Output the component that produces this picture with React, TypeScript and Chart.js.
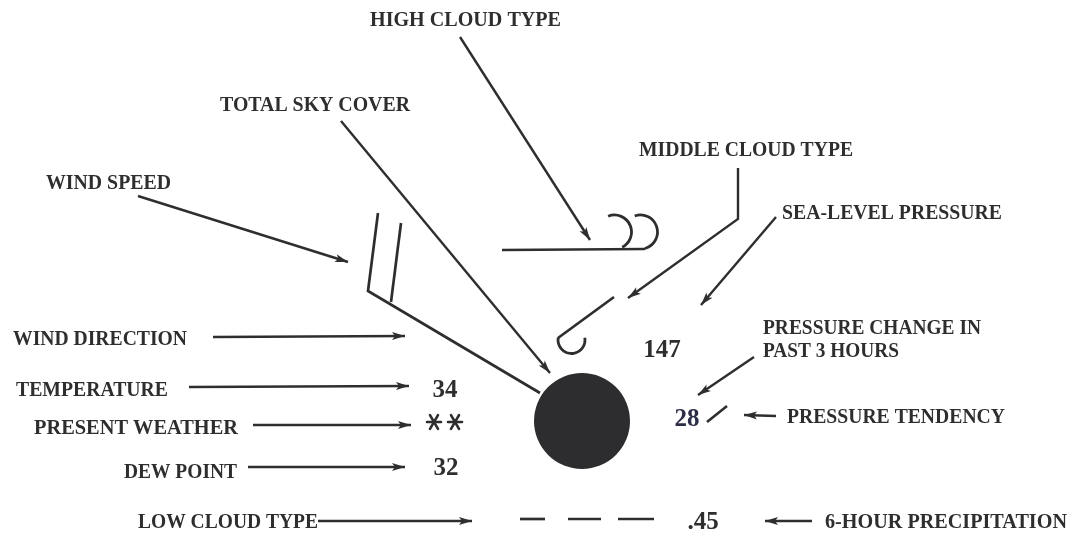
import { useEffect, useRef } from "react";
import { Chart, registerables } from "chart.js";

Chart.register(...registerables);

const W = 1077;
const H = 534;

// Field names of the station model: [text, left x, right x, centre y]
const fieldLabels: [string, number, number, number][] = [
  ["HIGH CLOUD TYPE", 370, 561, 19],
  ["TOTAL SKY COVER", 220, 410, 104],
  ["WIND SPEED", 46, 171, 182],
  ["MIDDLE CLOUD TYPE", 639, 853, 149],
  ["SEA-LEVEL PRESSURE", 782, 1002, 212],
  ["WIND DIRECTION", 13, 187, 338],
  ["PRESSURE CHANGE IN", 763, 981, 327],
  ["PAST 3 HOURS", 763, 899, 350],
  ["TEMPERATURE", 16, 168, 389],
  ["PRESENT WEATHER", 34, 238, 427],
  ["PRESSURE TENDENCY", 787, 1005, 416],
  ["DEW POINT", 124, 237, 471],
  ["LOW CLOUD TYPE", 138, 318, 521],
  ["6-HOUR PRECIPITATION", 825, 1067, 521],
];

// Observed values plotted around the station: [value, centre x, centre y]
const observedValues: [string, number, number][] = [
  ["34", 445, 388], // temperature
  ["32", 446, 466], // dew point
  ["147", 662, 348], // sea-level pressure
  ["28", 687, 417], // pressure change
  [".45", 703, 520], // 6-hour precipitation
];

// Leader arrows, tail ... tip
const arrowPaths: [number, number][][] = [
  [[138, 196], [348, 262]], // wind speed
  [[341, 121], [550, 373]], // total sky cover
  [[460, 37], [590, 240]], // high cloud
  [[738, 168], [738, 219], [628, 298]], // middle cloud
  [[776, 217], [701, 305]], // sea-level pressure
  [[754, 357], [698, 395]], // pressure change
  [[213, 337], [405, 336]], // wind direction
  [[189, 387], [409, 386]], // temperature
  [[253, 425], [411, 425]], // present weather
  [[248, 467], [405, 467]], // dew point
  [[318, 521], [472, 521]], // low cloud
  [[776, 416], [744, 415]], // pressure tendency
  [[812, 521], [765, 521]], // precipitation
];

// Straight strokes of the plotted symbols
const symbolPaths: [number, number][][] = [
  [[378, 213], [368, 291], [540, 393]], // wind staff + barb
  [[401, 223], [391, 302]], // second barb
  [[502, 250], [645, 249]], // high cloud base
  [[614, 297], [558, 338]], // middle cloud hook stem
  [[520, 519], [545, 519]], // low cloud dashes
  [[568, 519], [601, 519]],
  [[618, 519], [654, 519]],
  [[707, 422], [727, 406]], // tendency
];

// Curved strokes: [cx, cy, r, start deg, end deg]
const symbolArcs: [number, number, number, number, number][] = [
  [614.5, 232, 17, -112, 63],
  [640.5, 232, 17, -110, 75],
  [571.5, 340, 13.5, -10, 190],
];

// Present-weather snow marks (centres)
const snowMarks: [number, number][] = [
  [434, 422],
  [455, 422],
];

// Station circle (total sky cover = overcast)
const station: [number, number] = [582, 421];

const INK = "#2e2e2e";

const drawPlugin = {
  id: "stationModel",
  beforeDraw(chart: any) {
    const c = chart.ctx;
    c.save();
    c.fillStyle = "#ffffff";
    c.fillRect(0, 0, chart.width, chart.height);
    c.restore();
  },
  afterDatasetsDraw(chart: any) {
    const c = chart.ctx;
    const xs = chart.scales.x;
    const ys = chart.scales.y;
    const px = (v: number) => xs.getPixelForValue(v);
    const py = (v: number) => ys.getPixelForValue(v);
    c.save();
    // arrowheads
    chart.data.datasets.forEach((ds: any, i: number) => {
      if (!ds.isArrow) return;
      const pts = chart.getDatasetMeta(i).data;
      const a = pts[pts.length - 2];
      const b = pts[pts.length - 1];
      const ang = Math.atan2(b.y - a.y, b.x - a.x);
      const len = 13;
      const half = 4;
      c.save();
      c.translate(b.x, b.y);
      c.rotate(ang);
      c.beginPath();
      c.moveTo(0, 0);
      c.lineTo(-len, -half);
      c.lineTo(-len + 3, 0);
      c.lineTo(-len, half);
      c.closePath();
      c.fillStyle = INK;
      c.fill();
      c.restore();
    });
    // arcs
    c.strokeStyle = INK;
    c.lineWidth = 2.8;
    symbolArcs.forEach(([cx, cy, r, s, e]) => {
      c.beginPath();
      c.arc(px(cx), py(cy), r, (s * Math.PI) / 180, (e * Math.PI) / 180);
      c.stroke();
    });
    // snow marks: horizontal bar plus two steep diagonals
    c.lineWidth = 2.6;
    c.lineCap = "round";
    snowMarks.forEach(([cx, cy]) => {
      const x = px(cx);
      const y = py(cy);
      const arms: [number, number][] = [
        [0, 7],
        [60, 8],
        [120, 8],
      ];
      arms.forEach(([deg, l]) => {
        const t = (deg * Math.PI) / 180;
        const dx = Math.cos(t) * l;
        const dy = Math.sin(t) * l;
        c.beginPath();
        c.moveTo(x - dx, y - dy);
        c.lineTo(x + dx, y + dy);
        c.stroke();
      });
    });
    c.lineCap = "butt";
    // labels, fitted to their measured span
    c.fillStyle = INK;
    const ls = 20;
    c.font = `bold ${ls}px "Liberation Serif", "Times New Roman", serif`;
    c.textAlign = "left";
    c.textBaseline = "alphabetic";
    fieldLabels.forEach(([t, x0, x1, y]) => {
      const l = px(x0);
      const span = px(x1) - l;
      const w = c.measureText(t).width;
      c.save();
      c.translate(l, py(y) + ls * 0.33);
      c.scale(span / w, 1);
      c.fillText(t, 0, 0);
      c.restore();
    });
    const ns = 25;
    c.font = `bold ${ns}px "Liberation Serif", "Times New Roman", serif`;
    c.textAlign = "center";
    observedValues.forEach(([t, x, y]) => {
      c.fillStyle = t === "28" ? "#2c2e48" : INK;
      c.fillText(t, px(x), py(y) + ns * 0.34);
    });
    c.restore();
  },
};

export default function App() {
  const ref = useRef<HTMLCanvasElement | null>(null);
  useEffect(() => {
    if (!ref.current) return;
    const toPts = (p: [number, number][]) => p.map(([x, y]) => ({ x, y }));
    const lineDs = (p: [number, number][], arrow: boolean, w: number) => ({
      type: "scatter" as const,
      data: toPts(p),
      showLine: true,
      borderColor: INK,
      backgroundColor: INK,
      borderWidth: w,
      pointRadius: 0,
      tension: 0,
      clip: false,
      isArrow: arrow,
    });
    const datasets: any[] = [
      ...arrowPaths.map((p) => lineDs(p, true, 2.4)),
      ...symbolPaths.map((p) => lineDs(p, false, 2.7)),
      {
        type: "scatter",
        data: [{ x: station[0], y: station[1] }],
        pointRadius: 48,
        pointStyle: "circle",
        backgroundColor: "#2d2d2f",
        borderColor: "#2d2d2f",
        borderWidth: 0,
        clip: false,
      },
    ];
    const chart = new Chart(ref.current, {
      type: "scatter",
      data: { datasets },
      options: {
        animation: false,
        responsive: false,
        devicePixelRatio: 1,
        layout: { padding: 0, autoPadding: false },
        plugins: { legend: { display: false }, tooltip: { enabled: false } },
        events: [],
        scales: {
          x: { type: "linear", min: 0, max: W, display: false },
          y: { type: "linear", min: 0, max: H, reverse: true, display: false },
        },
      },
      plugins: [drawPlugin],
    } as any);
    return () => chart.destroy();
  }, []);
  return (
    <div style={{ position: "fixed", left: 0, top: 0, width: W, height: H, background: "#fff" }}>
      <canvas ref={ref} width={W} height={H} style={{ display: "block" }} />
    </div>
  );
}
